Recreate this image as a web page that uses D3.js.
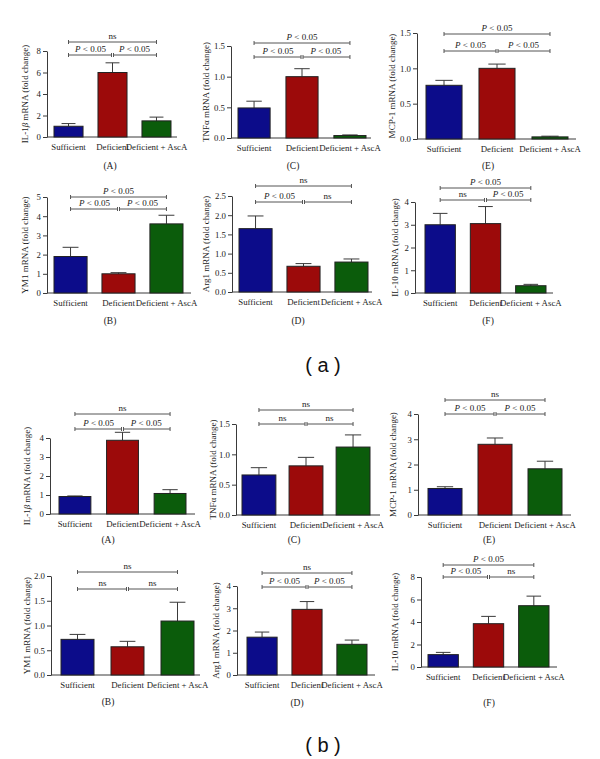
<!DOCTYPE html>
<html><head><meta charset="utf-8">
<script src="https://cdn.jsdelivr.net/npm/d3@7"></script>
<style>body{margin:0;background:#fff}svg{display:block}</style>
</head><body>
<script>
// ---------- DATA ----------
const categories = ["Sufficient", "Deficient", "Deficient + AscA"];
const panelLetters = ["A", "C", "E", "B", "D", "F"];
const genes = ["IL-1β", "TNFα", "MCP-1", "YM1", "Arg1", "IL-10"];
const groupLabels = ["a", "b"];

// (a) means and upper error bounds
const meansA = [[1.0, 6.0, 1.5], [0.49, 1.0, 0.04], [0.76, 1.0, 0.03], [1.9, 1.0, 3.6], [1.65, 0.67, 0.78], [3.0, 3.05, 0.32]];
const errTopA = [[1.25, 6.9, 1.85], [0.60, 1.13, 0.05], [0.83, 1.06, 0.04], [2.38, 1.06, 4.05], [1.98, 0.74, 0.86], [3.5, 3.8, 0.38]];
// (b) means and upper error bounds
const meansB = [[0.92, 3.88, 1.08], [0.66, 0.81, 1.12], [1.05, 2.8, 1.83], [0.72, 0.57, 1.09], [1.7, 2.95, 1.38], [1.1, 3.85, 5.45]];
const errTopB = [[0.95, 4.3, 1.28], [0.78, 0.95, 1.32], [1.12, 3.05, 2.13], [0.82, 0.68, 1.47], [1.93, 3.3, 1.57], [1.3, 4.5, 6.3]];

// y tick values
const ticksA = [[0, 2, 4, 6, 8], [0, 0.5, 1, 1.5], [0, 0.5, 1, 1.5], [0, 1, 2, 3, 4, 5], [0, 0.5, 1, 1.5, 2, 2.5], [0, 1, 2, 3, 4]];
const ticksB = [[0, 1, 2, 3, 4], [0, 0.5, 1, 1.5], [0, 1, 2, 3, 4], [0, 0.5, 1, 1.5, 2], [0, 1, 2, 3, 4], [0, 2, 4, 6, 8]];

// significance annotations
const sigTopA = ["ns", "P < 0.05", "P < 0.05", "P < 0.05", "ns", "P < 0.05"];
const sigLowA = [["P < 0.05", "P < 0.05"], ["P < 0.05", "P < 0.05"], ["P < 0.05", "P < 0.05"], ["P < 0.05", "P < 0.05"], ["P < 0.05", "ns"], ["ns", "P < 0.05"]];
const sigTopB = ["ns", "ns", "ns", "ns", "ns", "P < 0.05"];
const sigLowB = [["P < 0.05", "P < 0.05"], ["ns", "ns"], ["P < 0.05", "P < 0.05"], ["ns", "ns"], ["P < 0.05", "P < 0.05"], ["P < 0.05", "ns"]];

// ---------- LAYOUT (pixels) ----------
const layoutA = [
  {ax: 47, b0: 54, b1: 171, pi: 0.34, end: 177, y0: 137, y1: 51, top: 42, low: 55, lx: 25, px: 110, py: 166},
  {ax: 231, b0: 238, b1: 366, pi: 0.33, end: 371, y0: 138, y1: 46, top: 43, low: 57, lx: 206, px: 293, py: 166},
  {ax: 417, b0: 426, b1: 568, pi: 0.32, end: 576, y0: 139, y1: 33, top: 34, low: 51, lx: 392, px: 488, py: 166},
  {ax: 47, b0: 54, b1: 183, pi: 0.31, end: 191, y0: 293, y1: 197, top: 197, low: 209, lx: 25, px: 110, py: 321},
  {ax: 232, b0: 239, b1: 368, pi: 0.31, end: 372, y0: 292, y1: 196, top: 186, low: 202, lx: 206, px: 298, py: 321},
  {ax: 415, b0: 425, b1: 546, pi: 0.33, end: 553, y0: 293, y1: 202, top: 188, low: 200, lx: 395, px: 488, py: 321}
];
const layoutB = [
  {ax: 50, b0: 59, b1: 186, pi: 0.33, end: 195, y0: 514, y1: 438, top: 414, low: 429, lx: 27, px: 108, py: 540},
  {ax: 236, b0: 242, b1: 370, pi: 0.28, end: 380, y0: 515, y1: 424, top: 410, low: 424, lx: 213, px: 294, py: 540},
  {ax: 418, b0: 428, b1: 562, pi: 0.32, end: 571, y0: 515, y1: 414, top: 400, low: 414, lx: 393, px: 489, py: 540},
  {ax: 51, b0: 61, b1: 194, pi: 0.34, end: 200, y0: 675, y1: 576, top: 572, low: 589, lx: 27, px: 108, py: 702},
  {ax: 237, b0: 247, b1: 367, pi: 0.33, end: 375, y0: 675, y1: 586, top: 573, low: 587, lx: 216, px: 297, py: 703},
  {ax: 421, b0: 428, b1: 549, pi: 0.33, end: 557, y0: 667, y1: 577, top: 565, low: 577, lx: 395, px: 489, py: 703}
];
const groupPos = [{x: 323, y: 372}, {x: 323, y: 752}];
const colors = ["#0c0c8a", "#9c0a0a", "#0b5c0b"];
const FONT = "Liberation Serif, DejaVu Serif, serif";
const LINE = "#3a3a3a";

const svg = d3.select("body").append("svg").attr("width", 600).attr("height", 759)
  .style("font-family", FONT);

function sigText(sel, t) {
  if (t.startsWith("P")) {
    sel.append("tspan").attr("font-style", "italic").text("P");
    sel.append("tspan").text(t.slice(1));
  } else sel.text(t);
}

function bracket(g, xa, xb, yy) {
  g.append("line").attr("x1", xa).attr("x2", xb).attr("y1", yy).attr("y2", yy);
  g.append("line").attr("x1", xa).attr("x2", xa).attr("y1", yy - 2).attr("y2", yy + 2);
  g.append("line").attr("x1", xb).attr("x2", xb).attr("y1", yy - 2).attr("y2", yy + 2);
}

function drawPanel(L, means, errs, ticks, gene, letter, sTop, sLow) {
  const g = svg.append("g");
  const x = d3.scaleBand().domain(categories).range([L.b0, L.b1]).paddingInner(L.pi).paddingOuter(0);
  const y = d3.scaleLinear().domain([0, d3.max(ticks)]).range([L.y0, L.y1]);
  const decimals = ticks.some(t => t % 1 !== 0);
  const yAxis = d3.axisLeft(y).tickValues(ticks).tickSize(4).tickSizeOuter(0)
    .tickFormat(d => decimals ? d3.format(".1f")(d) : d3.format("d")(d));
  const ya = g.append("g").attr("transform", `translate(${L.ax},0)`).call(yAxis)
    .attr("font-family", FONT).attr("font-size", 8.8);
  ya.select(".domain").attr("stroke", LINE);
  ya.selectAll(".tick line").attr("stroke", LINE);
  ya.selectAll(".tick text").attr("fill", "#222").attr("x", -6);
  // x axis line
  g.append("line").attr("x1", L.ax).attr("x2", L.end).attr("y1", L.y0).attr("y2", L.y0).attr("stroke", LINE);
  // x labels via axis
  const xa = g.append("g").attr("transform", `translate(0,${L.y0})`)
    .call(d3.axisBottom(x).tickSize(0).tickPadding(7))
    .attr("font-family", FONT).attr("font-size", 8.8);
  xa.select(".domain").remove();
  xa.selectAll(".tick text").attr("fill", "#222");
  // bars
  const bw = x.bandwidth();
  const rows = categories.map((c, i) => ({c, v: means[i], e: errs[i], col: colors[i]}));
  // error bars
  const eg = g.append("g").attr("stroke", LINE).attr("stroke-width", 1);
  rows.forEach(r => {
    const cx = x(r.c) + bw / 2;
    eg.append("line").attr("x1", cx).attr("x2", cx).attr("y1", y(r.v)).attr("y2", y(r.e));
    eg.append("line").attr("x1", cx - bw * 0.24).attr("x2", cx + bw * 0.24).attr("y1", y(r.e)).attr("y2", y(r.e));
  });
  g.selectAll("rect.bar").data(rows).enter().append("rect")
    .attr("x", d => x(d.c)).attr("width", bw)
    .attr("y", d => y(d.v)).attr("height", d => L.y0 - y(d.v))
    .attr("fill", d => d.col).attr("stroke", "#222").attr("stroke-width", 1);
  // significance brackets
  const c = categories.map(k => x(k) + bw / 2);
  const bg = g.append("g").attr("stroke", "#555").attr("stroke-width", 1);
  bracket(bg, c[0], c[2], L.top);
  bracket(bg, c[0], c[1] - 1, L.low);
  bracket(bg, c[1] + 1, c[2], L.low);
  const tg = g.append("g").attr("font-size", 9).attr("fill", "#222").attr("text-anchor", "middle");
  sigText(tg.append("text").attr("x", (c[0] + c[2]) / 2).attr("y", L.top - 3), sTop);
  sigText(tg.append("text").attr("x", (c[0] + c[1]) / 2).attr("y", L.low - 3), sLow[0]);
  sigText(tg.append("text").attr("x", (c[1] + c[2]) / 2).attr("y", L.low - 3), sLow[1]);
  // y label
  const yl = g.append("text").attr("transform", `translate(${L.lx},${(L.y0 + L.y1) / 2}) rotate(-90)`)
    .attr("text-anchor", "middle").attr("dy", "0.35em").attr("font-size", 9).attr("fill", "#222");
  if (gene.endsWith("β")) {
    yl.append("tspan").text(gene.slice(0, -1));
    yl.append("tspan").attr("font-style", "italic").text("β");
  } else yl.append("tspan").text(gene);
  yl.append("tspan").text(" mRNA (fold change)");
  // panel letter
  g.append("text").attr("x", L.px).attr("y", L.py).attr("dy", "0.35em").attr("text-anchor", "middle")
    .attr("font-size", 9.5).attr("fill", "#222").text(`(${letter})`);
}

for (let i = 0; i < 6; i++) {
  drawPanel(layoutA[i], meansA[i], errTopA[i], ticksA[i], genes[i], panelLetters[i], sigTopA[i], sigLowA[i]);
  drawPanel(layoutB[i], meansB[i], errTopB[i], ticksB[i], genes[i], panelLetters[i], sigTopB[i], sigLowB[i]);
}
groupLabels.forEach((t, i) => {
  svg.append("text").attr("x", groupPos[i].x).attr("y", groupPos[i].y)
    .attr("text-anchor", "middle").attr("font-family", "Liberation Sans, Arial, sans-serif")
    .attr("font-size", 20).attr("fill", "#111").text(`( ${t} )`);
});
</script>
</body></html>
